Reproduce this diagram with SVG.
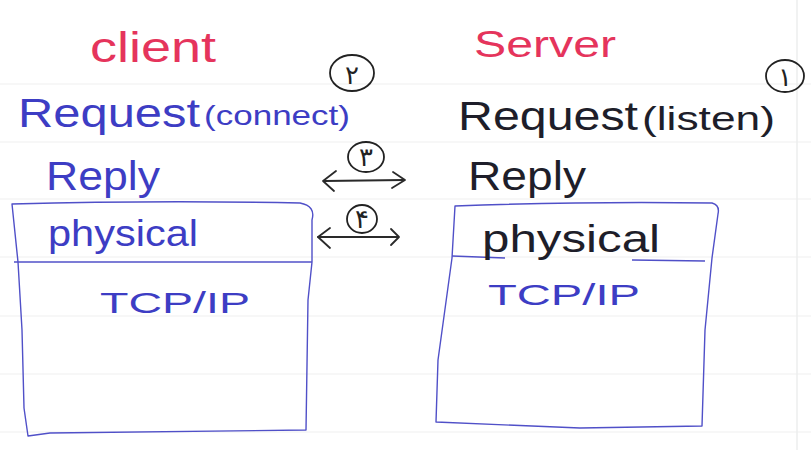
<svg xmlns="http://www.w3.org/2000/svg" width="811" height="450" viewBox="0 0 811 450">
  <style>
    .ink-blue { fill: #3d3dc4; }
    .ink-red { fill: #e5345c; }
    .ink-black { fill: #1e1e2a; }
    .hand { font-family: "Liberation Sans", "DejaVu Sans", sans-serif; font-weight: normal; }
    .digit { font-family: "DejaVu Sans", "Noto Sans", sans-serif; font-size: 26px; fill: #222; text-anchor: middle; }
    .ring { fill: none; stroke: #222; stroke-width: 1.8; }
    .box { fill: none; stroke: #5050c8; stroke-width: 1.4; stroke-linejoin: round; }
    .rule { stroke: #f4f5f5; stroke-width: 1.5; }
    .link { fill: none; stroke: #2a2a2a; stroke-width: 1.8; stroke-linecap: round; stroke-linejoin: round; }
  </style>

  <rect width="811" height="450" fill="#ffffff"/>

  <!-- notebook paper rules -->
  <g id="paper">
    <line class="rule" x1="0" y1="84" x2="811" y2="84"/>
    <line class="rule" x1="0" y1="142" x2="811" y2="142"/>
    <line class="rule" x1="0" y1="199" x2="811" y2="199"/>
    <line class="rule" x1="0" y1="257" x2="811" y2="257"/>
    <line class="rule" x1="0" y1="316" x2="811" y2="316"/>
    <line class="rule" x1="0" y1="374" x2="811" y2="374"/>
    <line class="rule" x1="0" y1="432" x2="811" y2="432"/>
    <line x1="797" y1="0" x2="797" y2="450" stroke="#eceeee" stroke-width="1.5"/>
  </g>

  <!-- client side -->
  <g id="client">
    <text class="hand ink-red" x="90" y="62" font-size="42" textLength="126" lengthAdjust="spacingAndGlyphs">client</text>
    <g id="step2">
      <ellipse class="ring" cx="352" cy="73" rx="22" ry="18"/>
      <text class="digit" x="352" y="84">۲</text>
    </g>
    <text class="hand ink-blue" x="18" y="127" font-size="40" textLength="182" lengthAdjust="spacingAndGlyphs">Request</text>
    <text class="hand ink-blue" x="204" y="125" font-size="28" textLength="146" lengthAdjust="spacingAndGlyphs">(connect)</text>
    <text class="hand ink-blue" x="46" y="190" font-size="40" textLength="114" lengthAdjust="spacingAndGlyphs">Reply</text>
  </g>

  <g id="client-stack">
    <path class="box" d="M12 204 Q160 200 300 203 Q316 206 312 220 L312 262 L308 300 L306 430 L50 433 L28 436 L24 408 L22 330 L18 262 Z"/>
    <path class="box" d="M14 262 L312 262"/>
    <text class="hand ink-blue" x="48" y="246" font-size="36" textLength="150" lengthAdjust="spacingAndGlyphs">physical</text>
    <text class="hand ink-blue" x="100" y="313" font-size="30" textLength="150" lengthAdjust="spacingAndGlyphs">TCP/IP</text>
  </g>

  <!-- server side -->
  <g id="server">
    <text class="hand ink-red" x="474" y="57" font-size="36" textLength="142" lengthAdjust="spacingAndGlyphs">Server</text>
    <g id="step1">
      <ellipse class="ring" cx="785" cy="76" rx="19" ry="16"/>
      <text class="digit" x="785" y="86">۱</text>
    </g>
    <text class="hand ink-black" x="458" y="130" font-size="40" textLength="180" lengthAdjust="spacingAndGlyphs">Request</text>
    <text class="hand ink-black" x="642" y="130" font-size="34" textLength="133" lengthAdjust="spacingAndGlyphs">(listen)</text>
    <text class="hand ink-black" x="468" y="190" font-size="40" textLength="118" lengthAdjust="spacingAndGlyphs">Reply</text>
  </g>

  <g id="server-stack">
    <path class="box" d="M455 206 Q590 201 712 203 Q720 205 718 214 L712 258 L705 330 L702 426 L580 428 L436 422 L438 360 L452 258 Z"/>
    <path class="box" d="M452 256 L505 258 M632 260 L705 261"/>
    <text class="hand ink-black" x="482" y="252" font-size="38" textLength="178" lengthAdjust="spacingAndGlyphs">physical</text>
    <text class="hand ink-blue" x="488" y="305" font-size="30" textLength="152" lengthAdjust="spacingAndGlyphs">TCP/IP</text>
  </g>

  <!-- exchanges between the two sides -->
  <g id="connectors">
    <g id="step3">
      <path class="link" d="M324 181 L404 180"/>
      <path class="link" d="M336 171 L323 181 L334 191"/>
      <path class="link" d="M393 172 L405 180 L392 188"/>
      <ellipse class="ring" cx="366" cy="157" rx="18" ry="15"/>
      <text class="digit" x="366" y="166">۳</text>
    </g>
    <g id="step4">
      <path class="link" d="M318 237 L398 237"/>
      <path class="link" d="M330 228 L318 237 L330 248"/>
      <path class="link" d="M391 229 L399 237 L391 245"/>
      <ellipse class="ring" cx="362" cy="219" rx="15" ry="14"/>
      <text class="digit" x="362" y="228">۴</text>
    </g>
  </g>
</svg>
